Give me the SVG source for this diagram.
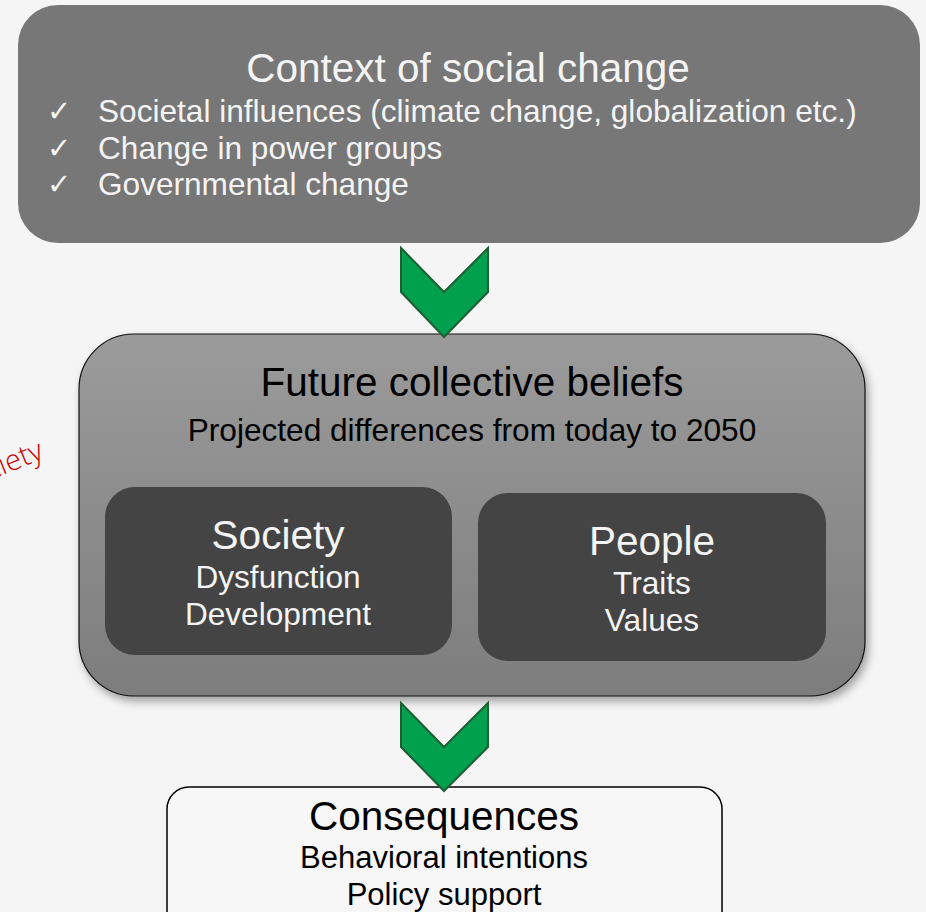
<svg xmlns="http://www.w3.org/2000/svg" width="926" height="912" viewBox="0 0 926 912">
<defs>
<linearGradient id="midGrad" x1="0" y1="0" x2="0" y2="1">
<stop offset="0" stop-color="#9b9b9b"/>
<stop offset="1" stop-color="#7d7d7d"/>
</linearGradient>
<filter id="shadow" x="-10%" y="-10%" width="120%" height="130%">
<feDropShadow dx="3" dy="5" stdDeviation="4" flood-color="#000" flood-opacity="0.35"/>
</filter>
<style>
text { font-family: "Liberation Sans", Arial, sans-serif; }
.w { fill: #f4f4f4; }
.b { fill: #000; }
.c { text-anchor: middle; }
.chk { font-family: "DejaVu Sans", sans-serif; font-size: 29px; fill: #f4f4f4; }
.arrow { fill: #00a04f; stroke: #1d5f33; stroke-width: 2; stroke-linejoin: miter; }
</style>
</defs>
<rect width="926" height="912" fill="#f5f5f5"/>

<text x="45" y="458" transform="rotate(-22 45 458)" text-anchor="end" font-size="29" fill="#cc0000" style="font-family:'Open Sans','Liberation Sans',sans-serif;font-weight:300">Society</text>

<g id="context">
<rect x="18" y="5" width="902" height="238" rx="40" ry="40" fill="#777777"/>
<text x="468" y="82" class="w c" font-size="40.5">Context of social change</text>
<text x="47" y="121" class="chk">✓</text>
<text x="98" y="122" class="w" font-size="31.6">Societal influences (climate change, globalization etc.)</text>
<text x="47" y="158" class="chk">✓</text>
<text x="98" y="159" class="w" font-size="31.6">Change in power groups</text>
<text x="47" y="194" class="chk">✓</text>
<text x="98" y="195" class="w" font-size="31.6">Governmental change</text>
</g>

<g id="beliefs">
<rect x="79" y="334" width="786" height="362" rx="55" ry="55" fill="url(#midGrad)" stroke="#111" stroke-width="1.2" filter="url(#shadow)"/>
<text x="472" y="396" class="b c" font-size="40.5">Future collective beliefs</text>
<text x="472" y="441" class="b c" font-size="31.6">Projected differences from today to 2050</text>
</g>

<g id="society">
<rect x="105" y="487" width="347" height="168" rx="30" ry="30" fill="#444444"/>
<text x="278" y="549" class="w c" font-size="40.5">Society</text>
<text x="278" y="588" class="w c" font-size="31.6">Dysfunction</text>
<text x="278" y="625" class="w c" font-size="31.6">Development</text>
</g>

<g id="people">
<rect x="478" y="493" width="348" height="168" rx="30" ry="30" fill="#444444"/>
<text x="652" y="555" class="w c" font-size="40.5">People</text>
<text x="652" y="594" class="w c" font-size="31.6">Traits</text>
<text x="652" y="631" class="w c" font-size="31.6">Values</text>
</g>

<g id="consequences">
<rect x="167" y="787" width="555" height="150" rx="22" ry="22" fill="#f7f7f7" stroke="#000" stroke-width="1.5"/>
<text x="444" y="830" class="b c" font-size="40.5">Consequences</text>
<text x="444" y="868" class="b c" font-size="31">Behavioral intentions</text>
<text x="444" y="905" class="b c" font-size="31">Policy support</text>
</g>

<g id="connectors">
<polygon class="arrow" points="401,248 444,292 488,248 488,292 444,337 401,292"/>
<polygon class="arrow" points="401,703 444,747 488,703 488,747 444,791 401,747"/>
</g>
</svg>
